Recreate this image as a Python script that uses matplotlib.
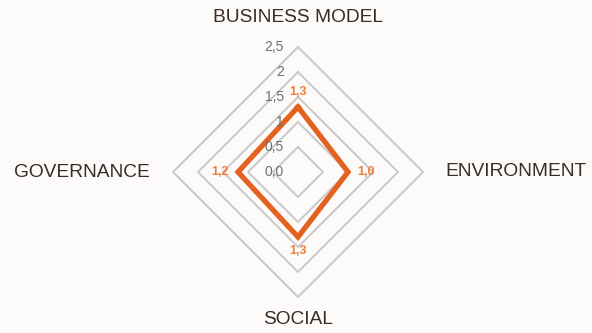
import numpy as np
import matplotlib
matplotlib.use("Agg")
import matplotlib.pyplot as plt

categories = ["BUSINESS MODEL", "ENVIRONMENT", "SOCIAL", "GOVERNANCE"]
values = [1.3, 1.0, 1.3, 1.2]
value_labels = ["1,3", "1,0", "1,3", "1,2"]
grid_levels = [0.5, 1.0, 1.5, 2.0, 2.5]
tick_values = [0.0, 0.5, 1.0, 1.5, 2.0, 2.5]
tick_labels = ["0,0", "0,5", "1", "1,5", "2", "2,5"]

plt.rcParams['font.family'] = ['Liberation Sans', 'DejaVu Sans']

W, H, DPI = 592, 333, 100
fig = plt.figure(figsize=(W / DPI, H / DPI), dpi=DPI)
bg = '#FDFBF9'
fig.patch.set_facecolor(bg)

cx, cy, R = 298, 333 - 172, 125
ax = fig.add_axes([(cx - R) / W, (cy - R) / H, 2 * R / W, 2 * R / H], projection='polar')
ax.set_facecolor('none')
ax.set_theta_offset(np.pi / 2)
ax.set_theta_direction(-1)
ax.set_ylim(0, 2.5)
ax.grid(False)
ax.spines['polar'].set_visible(False)
ax.set_xticks([])
ax.set_yticks([])

n = len(categories)
angles = [i * 2 * np.pi / n for i in range(n)]
closed = angles + angles[:1]

grid_color = '#C9C9C9'
for lv in grid_levels:
    ax.plot(closed, [lv] * (n + 1), color=grid_color, lw=1.4, clip_on=False, zorder=1)

orange = '#E4621F'
ax.plot(closed, values + values[:1], color=orange, lw=3.8, clip_on=False,
        zorder=3, solid_joinstyle='miter')

# value tick labels along the top axis
for tv, tl in zip(tick_values, tick_labels):
    ax.annotate(tl, xy=(0, tv), xytext=(-10, 0), textcoords='offset points',
                ha='right', va='center', fontsize=10, color='#6F6F6F', zorder=4)

# data labels
offsets = [(0, 11, 'center', 'center'), (7, 0, 'left', 'center'),
           (0, -10, 'center', 'center'), (-7, 0, 'right', 'center')]
for a, v, lab, (dx, dy, ha, va) in zip(angles, values, value_labels, offsets):
    ax.annotate(lab, xy=(a, v), xytext=(dx, dy), textcoords='offset points',
                ha=ha, va=va, fontsize=9, fontweight='bold', color='#EE7D3A', zorder=5)

# category labels
cat_pos = [(3.1, 'center', 'center'), (2.94, 'left', 'center'),
           (2.96, 'center', 'center'), (2.96, 'right', 'center')]
for a, c, (r, ha, va) in zip(angles, categories, cat_pos):
    ax.text(a, r, c, ha=ha, va=va, fontsize=13.8, color='#3A2A28', clip_on=False)

fig.savefig('out.png', dpi=DPI, facecolor=bg)
